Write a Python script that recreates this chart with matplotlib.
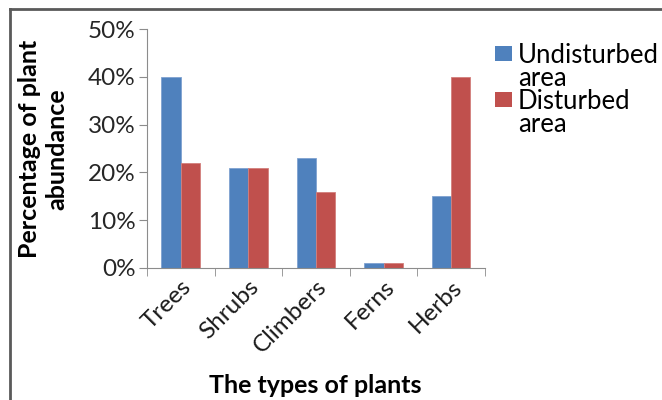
import matplotlib
matplotlib.use('Agg')
import matplotlib.pyplot as plt
import numpy as np
from matplotlib.lines import Line2D
from matplotlib.patches import Rectangle
from matplotlib.ticker import FuncFormatter

categories = ['Trees', 'Shrubs', 'Climbers', 'Ferns', 'Herbs']
undisturbed = [40, 21, 23, 1, 15]
disturbed = [22, 21, 16, 1, 40]
series_names = ['Undisturbed\narea', 'Disturbed\narea']
colors = ['#4F81BD', '#C0504D']

plt.rcParams['font.family'] = ['Lato', 'DejaVu Sans']

fig = plt.figure(figsize=(6.62, 4), dpi=100)
ax = fig.add_axes([0.222, 0.33, 0.5106, 0.5975])

x = np.arange(len(categories))
w = 1 / 3.5
ax.bar(x - w / 2, undisturbed, w, color=colors[0], edgecolor='#7FA2D0', linewidth=0.6)
ax.bar(x + w / 2, disturbed, w, color=colors[1], edgecolor='#D37F7C', linewidth=0.6)

ax.set_xlim(-0.5, len(categories) - 0.5)
ax.set_ylim(0, 50)
ax.set_yticks(np.arange(0, 51, 10))
ax.yaxis.set_major_formatter(FuncFormatter(lambda v, p: f'{v:.0f}%'))
ax.set_xticks(x)
ax.set_xticks(np.arange(-0.5, len(categories)), minor=True)
ax.set_xticklabels(categories, rotation=45, ha='right', rotation_mode='anchor')

for s in ['top', 'right']:
    ax.spines[s].set_visible(False)
for s in ['left', 'bottom']:
    ax.spines[s].set_color('#8C8C8C')
ax.tick_params(axis='y', colors='#8C8C8C', labelcolor='#262626', length=6, labelsize=17.5, pad=2)
ax.tick_params(axis='x', which='major', length=0, labelcolor='#1A1A1A', labelsize=17.5, pad=6)
ax.tick_params(axis='x', which='minor', length=6, color='#8C8C8C')

fig.text(0.065, 0.627, 'Percentage of plant\nabundance', rotation=90, ha='center', va='center',
         fontsize=18, fontweight='bold', linespacing=1.2)
fig.text(0.476, 0.037, 'The types of plants', ha='center', va='center', fontsize=18, fontweight='bold')

# legend
for i, name in enumerate(series_names):
    ytop = 0.885 - i * 0.115
    fig.patches.append(Rectangle((0.748, ytop - 0.038), 0.025, 0.038, transform=fig.transFigure,
                                 facecolor=colors[i], edgecolor='none'))
    fig.text(0.782, ytop + 0.008, name, ha='left', va='top', fontsize=18.5, linespacing=0.9)

# outer frame
fig.lines.append(Line2D([0.0145, 0.0145], [0, 0.977], transform=fig.transFigure, color='#5A5A5A', lw=2))
fig.lines.append(Line2D([0.0145, 1], [0.977, 0.977], transform=fig.transFigure, color='#5A5A5A', lw=2))

fig.savefig('out.png', dpi=100)
